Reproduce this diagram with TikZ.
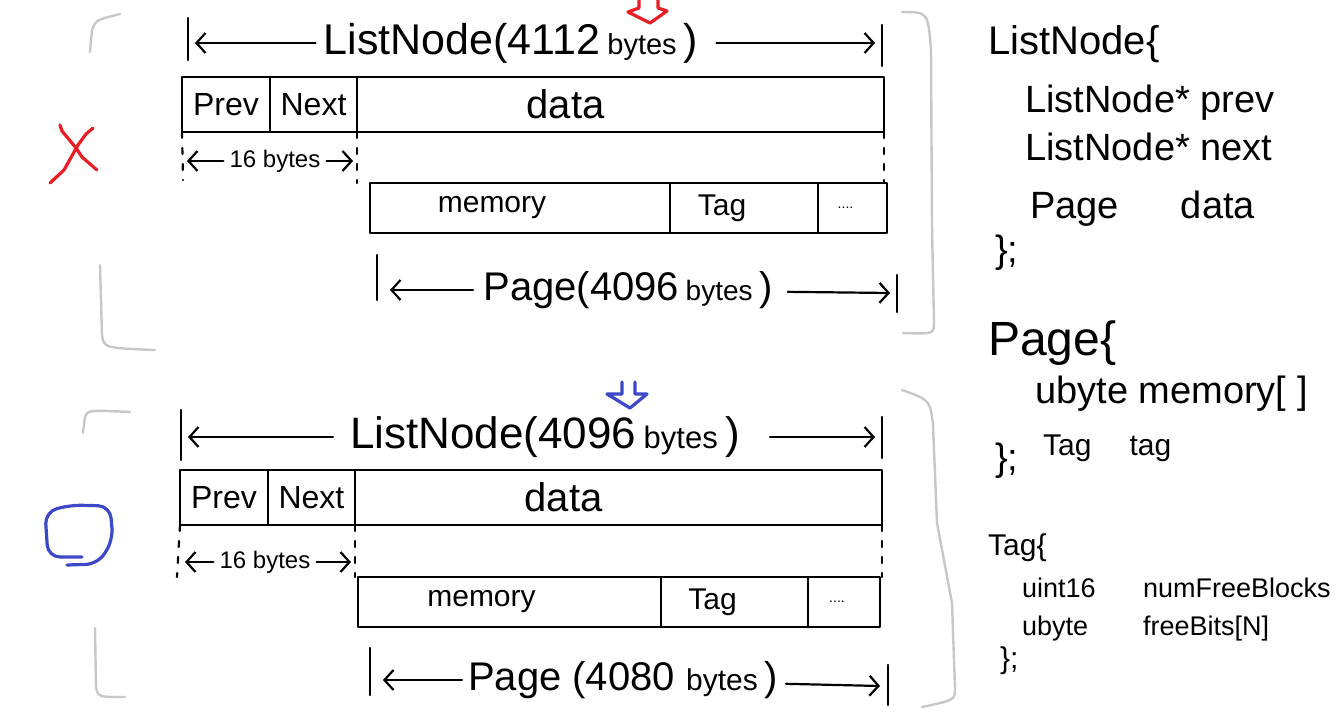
\documentclass[tikz,border=0pt]{standalone}
\usepackage{fontspec}
\setmainfont{Liberation Sans}
\usetikzlibrary{arrows.meta,positioning}
\definecolor{markred}{RGB}{232,30,36}
\definecolor{markblue}{RGB}{60,72,200}
\newcommand{\fs}[1]{\fontsize{#1}{#1}\selectfont}

\begin{document}
\begin{tikzpicture}[x=1pt,y=-1pt,
  ink/.style={line width=2.2pt,line cap=round,line join=round},
  pen/.style={line width=3.2pt,line cap=round,line join=round},
  cell/.style={draw,ink,anchor=north west,inner sep=0pt,outer sep=0pt,
    minimum height=55pt},
  slot/.style={cell,minimum height=50pt},
  dim/.style={ink,-{Straight Barb[length=9pt,width=20pt]}},
  guide/.style={ink,dash pattern=on 6pt off 10pt},
  frame/.style={draw=black!22,line width=2.4pt,line cap=round,line join=round},
  title/.style={inner sep=0pt},
  code/.style={inner sep=0pt,anchor=base west}]
\useasboundingbox (0,0) rectangle (1342,725);

% ---------- upper layout (rejected)
\draw[frame] (90,52) -- (92,30) .. controls (96,20) .. (120,14);
\draw[frame] (100,265) -- (102,335) .. controls (104,348) .. (155,350);
\draw[frame] (902,12) .. controls (928,12) .. (931,50) -- (932,227)
  -- (934,322) .. controls (934,334) .. (903,333);
\draw[markred,pen] (60,125) -- (62,131) -- (76,148) -- (82,157) -- (97,170);
\draw[markred,pen] (93,128) -- (86,134) -- (78,145) -- (64,170) -- (50,183);
\draw[markred,pen] (639,-4) -- (639,8) -- (628,12) -- (650,23) -- (667,11)
  -- (658,8) -- (658,-4);

\node[title] (nodeA) at (511,43)
  {\fs{43}ListNode(4112\,{\fs{29}bytes}\,)};
\coordinate (nodeAl) at (195,43);
\coordinate (nodeAr) at (875,43);
\draw[ink] (188,18) -- (188,60);
\draw[ink] (882,25) -- (882,66);
\draw[dim,shorten <=8pt] (nodeA) -- (nodeAl);
\draw[dim,shorten <=18pt] (nodeA) -- (nodeAr);

\node[cell,minimum width=88pt] (prevA) at (182,77) {\fs{32}Prev};
\node[cell,minimum width=87pt,right=0pt of prevA] (nextA) {\fs{32}Next};
\node[cell,minimum width=527pt,right=0pt of nextA] (dataA)
  {\fs{40}data\hspace*{110pt}};

\node[slot,minimum width=300pt] (memA) at (370,183)
  {\fs{30}memory\hspace*{56pt}};
\node[slot,minimum width=148pt,right=0pt of memA] (tagA)
  {\fs{30}Tag\hspace*{44pt}};
\node[slot,minimum width=69pt,right=0pt of tagA] (dotsA)
  {\fs{14}....\hspace*{14pt}};

\coordinate (gapA) at (183,180);
\draw[guide] (prevA.south west) -- (gapA);
\draw[guide] (nextA.south east) -- (nextA.south east |- memA.north);
\draw[guide] (dataA.south east) -- (dataA.south east |- memA.north);

\node[title] (sixA) at (275,161) {\fs{24}16 bytes};
\draw[dim,shorten <=6pt,shorten >=5pt] (sixA) -- (prevA.south west |- sixA);
\draw[dim,shorten <=6pt,shorten >=4pt] (sixA) -- (nextA.south east |- sixA);

\node[title] (pageA) at (628,290)
  {\fs{40}Page(4096\,{\fs{28}bytes}\,)};
\coordinate (pageAl) at (390,290);
\coordinate (pageAr) at (890,293);
\draw[ink] (377,255) -- (377,300);
\draw[ink] (897,275) -- (897,312);
\draw[dim,shorten <=10pt] (pageA) -- (pageAl);
\draw[dim,shorten <=15pt] (pageA) -- (pageAr);

% ---------- lower layout (accepted)
\draw[frame] (83,433) -- (85,417) .. controls (88,410) .. (130,412);
\draw[frame] (95,628) -- (96,687) .. controls (98,697) .. (125,697);
\draw[frame] (902,390) .. controls (930,400) .. (933,425) -- (937,523)
  -- (952,603) -- (955,688) .. controls (955,700) .. (922,707);
\draw[markblue,pen,rounded corners=12pt] (82,557) -- (48,557) -- (45,512)
  -- (70,505) -- (110,506) -- (113,540) -- (98,564) -- (67,565);
\draw[markblue,pen] (622,382) -- (622,394) -- (607,394) -- (630,408)
  -- (647,394) -- (635,394) -- (635,382);

\node[title] (nodeB) at (545,437)
  {\fs{44}ListNode(4096\,{\fs{31}bytes}\,)};
\coordinate (nodeBl) at (188,437);
\coordinate (nodeBr) at (875,437);
\draw[ink] (181,410) -- (181,460);
\draw[ink] (882,417) -- (882,458);
\draw[dim,shorten <=17pt] (nodeB) -- (nodeBl);
\draw[dim,shorten <=30pt] (nodeB) -- (nodeBr);

\node[cell,minimum width=88pt] (prevB) at (180,470) {\fs{32}Prev};
\node[cell,minimum width=87pt,right=0pt of prevB] (nextB) {\fs{32}Next};
\node[cell,minimum width=527pt,right=0pt of nextB] (dataB)
  {\fs{40}data\hspace*{110pt}};

\node[slot,minimum width=303pt] (memB) at (358,577)
  {\fs{30}memory\hspace*{56pt}};
\node[slot,minimum width=147pt,right=0pt of memB] (tagB)
  {\fs{30}Tag\hspace*{44pt}};
\node[slot,minimum width=72pt,right=0pt of tagB] (dotsB)
  {\fs{14}....\hspace*{14pt}};

\coordinate (gapB) at (177,577);
\draw[guide] (prevB.south west) -- (gapB);
\draw[guide] (nextB.south east) -- (nextB.south east |- memB.north);
\draw[guide] (dataB.south east) -- (dataB.south east |- memB.north);

\node[title] (sixB) at (265,562) {\fs{24}16 bytes};
\draw[dim,shorten <=6pt,shorten >=5pt] (sixB) -- (prevB.south west |- sixB);
\draw[dim,shorten <=6pt,shorten >=4pt] (sixB) -- (nextB.south east |- sixB);

\node[title] (pageB) at (623,680)
  {\fs{40}Page (4080 {\fs{30}bytes}\,)};
\coordinate (pageBl) at (383,680);
\coordinate (pageBr) at (880,686);
\draw[ink] (370,648) -- (370,695);
\draw[ink] (888,665) -- (888,705);
\draw[dim,shorten <=6pt] (pageB) -- (pageBl);
\draw[dim,shorten <=8pt] (pageB) -- (pageBr);

% ---------- structure definitions
\node[code] (lnHead) at (988,55) {\fs{40}ListNode\{};
\node[code] (lnPrev) at (1025,112) {\fs{38}ListNode* prev};
\node[code] (lnNext) at (1025,160) {\fs{38}ListNode* next};
\node[code] (lnData) at (1030,218) {\fs{38}Page\hspace{62pt}data};
\node[code] (lnEnd) at (995,262) {\fs{38}\};};

\node[code] (pgHead) at (988,355) {\fs{48}Page\{};
\node[code] (pgMem) at (1035,403) {\fs{38}ubyte memory[ ]};
\node[code] (pgTag) at (1043,455) {\fs{30}Tag\hspace{38pt}tag};
\node[code] (pgEnd) at (995,470) {\fs{38}\};};

\node[code] (tgHead) at (988,555) {\fs{30}Tag\{};
\node[code] (tgNum) at (1022,597)
  {\fs{27}\makebox[121pt][l]{uint16}numFreeBlocks};
\node[code] (tgBits) at (1022,635)
  {\fs{27}\makebox[121pt][l]{ubyte}freeBits[N]};
\node[code] (tgEnd) at (1000,668) {\fs{30}\};};
\end{tikzpicture}
\end{document}
